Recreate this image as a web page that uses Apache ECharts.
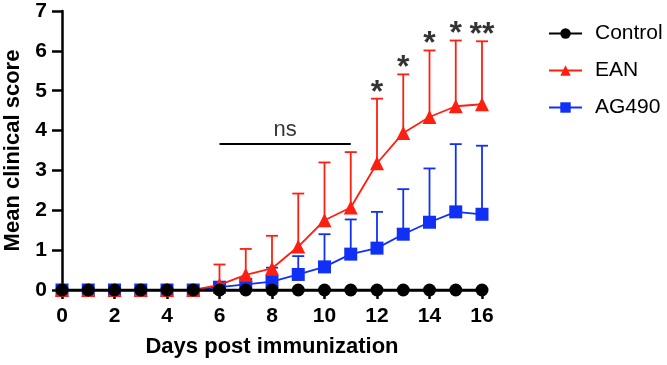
<!DOCTYPE html>
<html>
<head>
<meta charset="utf-8">
<script src="https://cdn.jsdelivr.net/npm/echarts@6/dist/echarts.min.js"></script>
<style>
html,body{margin:0;padding:0;background:#fff;}
#chart{width:667px;height:365px;}
</style>
</head>
<body>
<div id="chart"></div>
<script>
var days = [0,1,2,3,4,5,6,7,8,9,10,11,12,13,14,15,16];
var controlMean = [0,0,0,0,0,0,0,0,0,0,0,0,0,0,0,0,0];
var eanMean = [0,0,0,0,0,0,0.13,0.38,0.54,1.09,1.75,2.07,3.18,3.94,4.34,4.61,4.66];
var eanUpper = [0,0,0,0,0,0,0.64,1.03,1.36,2.42,3.2,3.46,4.8,5.41,6.01,6.26,6.24];
var agMean = [0,0,0,0,0,0,0.07,0.14,0.21,0.39,0.58,0.9,1.05,1.4,1.7,1.96,1.9];
var agUpper = [0,0,0,0,0,0,0.15,0.2,0.56,0.85,1.4,1.77,1.96,2.53,3.05,3.66,3.62];
var xTicks = [0,2,4,6,8,10,12,14,16];
var yTicks = [0,1,2,3,4,5,6,7];
var nsRange = [6,11];
var nsY = 3.68;
var nsLabel = 'ns';
var starDays = [12,13,14,15,16];
var starLabels = ['*','*','*','*','**'];

var RED = '#ff1f10', BLUE = '#1030f5';

function pairs(ys){ return days.map(function(d,i){return [d, ys[i]];}); }
function errData(m,u){ var out=[]; days.forEach(function(d,i){ if(u[i]>m[i]) out.push([d,m[i],u[i]]); }); return out; }

function errSeries(m,u,color){
  return {
    type:'custom', silent:true, z:2,
    data: errData(m,u),
    renderItem: function(params, api){
      var x = api.value(0);
      var p0 = api.coord([x, api.value(1)]);
      var p1 = api.coord([x, api.value(2)]);
      return {type:'group', children:[
        {type:'line', shape:{x1:p0[0],y1:p0[1],x2:p1[0],y2:p1[1]}, style:{stroke:color,lineWidth:1.8}},
        {type:'line', shape:{x1:p1[0]-6,y1:p1[1],x2:p1[0]+6,y2:p1[1]}, style:{stroke:color,lineWidth:1.8}}
      ]};
    }
  };
}

var chart = echarts.init(document.getElementById('chart'));
chart.setOption({
  animation:false,
  backgroundColor:'#fff',
  grid:{left:62, right:185, top:11, bottom:75, outerBoundsMode:'none'},
  legend:{
    orient:'vertical', left:543, top:18, itemGap:16,
    itemWidth:33, itemHeight:13,
    textStyle:{fontFamily:'Liberation Sans, Arial', fontSize:21, color:'#000', padding:[0,0,0,8]},
    data:['Control','EAN','AG490']
  },
  xAxis:{
    type:'value', min:0, max:16, interval:2,
    name:'Days post immunization', nameLocation:'middle', nameGap:46,
    nameTextStyle:{fontFamily:'Liberation Sans, Arial', fontWeight:'bold', fontSize:22, color:'#000'},
    axisLine:{show:true, lineStyle:{color:'#000', width:2.5}},
    axisTick:{show:true, length:9, lineStyle:{color:'#000', width:2.5}},
    axisLabel:{margin:16, fontFamily:'Liberation Sans, Arial', fontWeight:'bold', fontSize:21, color:'#000'},
    splitLine:{show:false}
  },
  yAxis:{
    type:'value', min:0, max:7, interval:1,
    name:'Mean clinical score', nameLocation:'middle', nameGap:36,
    nameTextStyle:{fontFamily:'Liberation Sans, Arial', fontWeight:'bold', fontSize:22, color:'#000'},
    axisLine:{show:true, lineStyle:{color:'#000', width:2.5}},
    axisTick:{show:true, length:10, lineStyle:{color:'#000', width:2.5}},
    axisLabel:{margin:15, fontFamily:'Liberation Sans, Arial', fontWeight:'bold', fontSize:21, color:'#000'},
    splitLine:{show:false}
  },
  series:[
    errSeries(agMean, agUpper, BLUE),
    {name:'AG490', type:'line', z:3, data:pairs(agMean), symbol:'rect', symbolSize:13,
     itemStyle:{color:BLUE}, lineStyle:{color:BLUE, width:1.8}},
    errSeries(eanMean, eanUpper, RED),
    {name:'EAN', type:'line', z:4, data:pairs(eanMean), symbol:'triangle', symbolSize:14,
     itemStyle:{color:RED}, lineStyle:{color:RED, width:1.8}},
    {name:'Control', type:'line', z:5, data:pairs(controlMean), symbol:'circle', symbolSize:13,
     itemStyle:{color:'#000'}, lineStyle:{color:'#000', width:2.5},
     markLine:{silent:true, symbol:'none', label:{show:false},
       lineStyle:{color:'#000', width:2, type:'solid'},
       data:[[{coord:[nsRange[0], nsY]},{coord:[nsRange[1], nsY]}]]}},
    {type:'scatter', silent:true, symbolSize:0, z:6,
     data:[[ (nsRange[0]+nsRange[1])/2, nsY ]],
     label:{show:true, position:'top', distance:2, formatter:nsLabel,
       fontFamily:'Liberation Sans, Arial', fontSize:22, color:'#000'}},
    {type:'scatter', silent:true, symbolSize:0, z:6,
     data: starDays.map(function(d,i){return {value:[d, eanUpper[days.indexOf(d)]], label:{formatter:starLabels[i]}};}),
     label:{show:true, position:'top', distance:-10,
       fontFamily:'Liberation Sans, Arial', fontWeight:'bold', fontSize:32, color:'#000'}}
  ]
});
</script>
</body>
</html>
